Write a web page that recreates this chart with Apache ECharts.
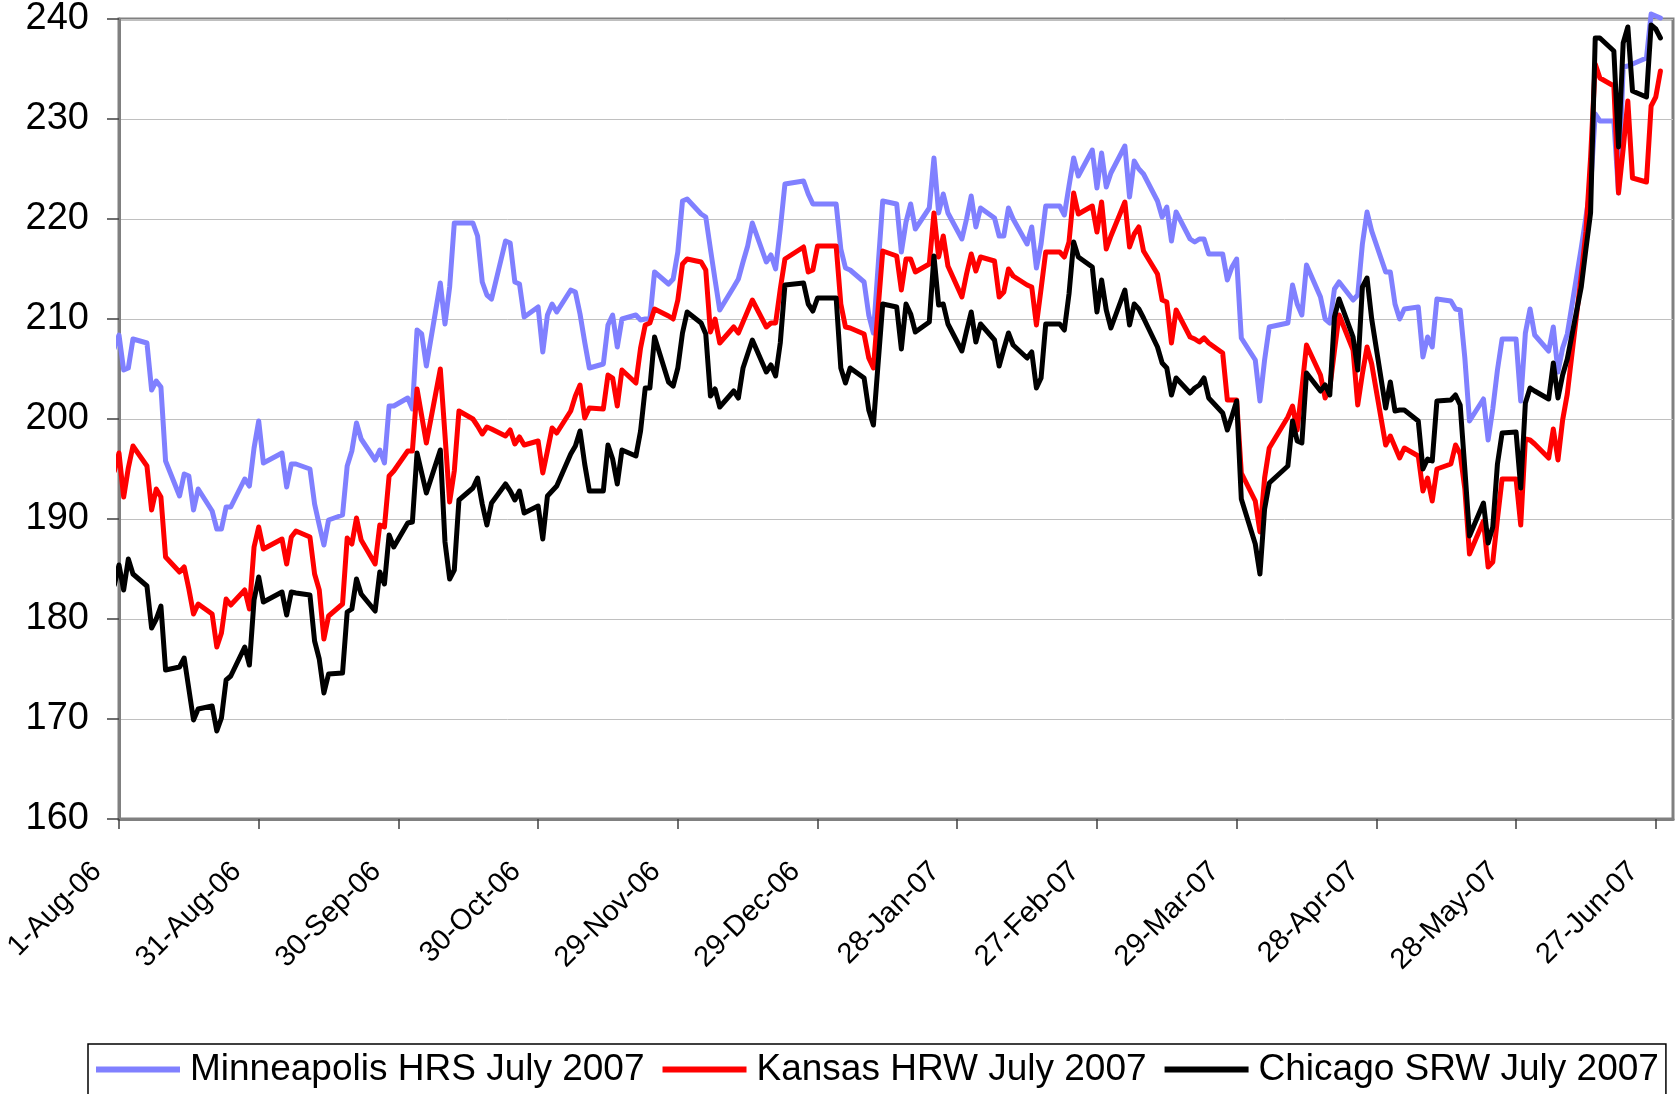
<!DOCTYPE html>
<html><head><meta charset="utf-8">
<script src="https://cdn.jsdelivr.net/npm/echarts@6/dist/echarts.min.js"></script>
<style>html,body{margin:0;padding:0;background:#fff;}#chart{width:1676px;height:1094px;}</style>
</head><body><div id="chart"></div>
<script>
// Trading dates (ISO)
const dates = [
'2006-07-31',
'2006-08-01','2006-08-02','2006-08-03','2006-08-04',
'2006-08-07','2006-08-08','2006-08-09','2006-08-10','2006-08-11',
'2006-08-14','2006-08-15','2006-08-16','2006-08-17','2006-08-18',
'2006-08-21','2006-08-22','2006-08-23','2006-08-24','2006-08-25',
'2006-08-28','2006-08-29','2006-08-30','2006-08-31','2006-09-01',
'2006-09-05','2006-09-06','2006-09-07','2006-09-08',
'2006-09-11','2006-09-12','2006-09-13','2006-09-14','2006-09-15',
'2006-09-18','2006-09-19','2006-09-20','2006-09-21','2006-09-22',
'2006-09-25','2006-09-26','2006-09-27','2006-09-28','2006-09-29',
'2006-10-02','2006-10-03','2006-10-04','2006-10-05','2006-10-06',
'2006-10-09','2006-10-10','2006-10-11','2006-10-12','2006-10-13',
'2006-10-16','2006-10-17','2006-10-18','2006-10-19','2006-10-20',
'2006-10-23','2006-10-24','2006-10-25','2006-10-26','2006-10-27',
'2006-10-30','2006-10-31','2006-11-01','2006-11-02','2006-11-03',
'2006-11-06','2006-11-07','2006-11-08','2006-11-09','2006-11-10',
'2006-11-13','2006-11-14','2006-11-15','2006-11-16','2006-11-17',
'2006-11-20','2006-11-21','2006-11-22','2006-11-23','2006-11-24',
'2006-11-27','2006-11-28','2006-11-29','2006-11-30','2006-12-01',
'2006-12-04','2006-12-05','2006-12-06','2006-12-07','2006-12-08',
'2006-12-11','2006-12-12','2006-12-13','2006-12-14','2006-12-15',
'2006-12-18','2006-12-19','2006-12-20','2006-12-21','2006-12-22',
'2006-12-26','2006-12-27','2006-12-28','2006-12-29',
'2007-01-02','2007-01-03','2007-01-04','2007-01-05',
'2007-01-08','2007-01-09','2007-01-10','2007-01-11','2007-01-12',
'2007-01-15','2007-01-16','2007-01-17','2007-01-18','2007-01-19',
'2007-01-22','2007-01-23','2007-01-24','2007-01-25','2007-01-26',
'2007-01-29','2007-01-30','2007-01-31','2007-02-01','2007-02-02',
'2007-02-05','2007-02-06','2007-02-07','2007-02-08','2007-02-09',
'2007-02-12','2007-02-13','2007-02-14','2007-02-15','2007-02-16',
'2007-02-19','2007-02-20','2007-02-21','2007-02-22','2007-02-23',
'2007-02-26','2007-02-27','2007-02-28','2007-03-01','2007-03-02',
'2007-03-05','2007-03-06','2007-03-07','2007-03-08','2007-03-09',
'2007-03-12','2007-03-13','2007-03-14','2007-03-15','2007-03-16',
'2007-03-19','2007-03-20','2007-03-21','2007-03-22','2007-03-23',
'2007-03-26','2007-03-27','2007-03-28','2007-03-29','2007-03-30',
'2007-04-02','2007-04-03','2007-04-04','2007-04-05',
'2007-04-09','2007-04-10','2007-04-11','2007-04-12','2007-04-13',
'2007-04-16','2007-04-17','2007-04-18','2007-04-19','2007-04-20',
'2007-04-23','2007-04-24','2007-04-25','2007-04-26','2007-04-27',
'2007-04-30','2007-05-01','2007-05-02','2007-05-03','2007-05-04',
'2007-05-07','2007-05-08','2007-05-09','2007-05-10','2007-05-11',
'2007-05-14','2007-05-15','2007-05-16','2007-05-17','2007-05-18',
'2007-05-21','2007-05-22','2007-05-23','2007-05-24','2007-05-25',
'2007-05-28','2007-05-29','2007-05-30','2007-05-31','2007-06-01',
'2007-06-04','2007-06-05','2007-06-06','2007-06-07','2007-06-08',
'2007-06-11','2007-06-12','2007-06-13','2007-06-14','2007-06-15',
'2007-06-18','2007-06-19','2007-06-20','2007-06-21','2007-06-22',
'2007-06-25','2007-06-26','2007-06-27','2007-06-28'
];

const minneapolis = [
207.1,
208.4,204.9,205.1,208.0,
207.6,202.9,203.8,203.2,195.8,
192.3,194.5,194.3,190.9,193.0,
190.8,189.0,189.0,191.2,191.2,
194.0,193.3,197.1,199.8,195.6,
196.6,193.2,195.5,195.5,
195.0,191.5,189.4,187.4,189.9,
190.4,195.3,196.8,199.6,198.0,
195.9,196.9,195.6,201.3,201.3,
202.1,201.0,208.9,208.5,205.3,
213.6,209.5,213.2,219.6,219.6,
219.6,218.3,213.7,212.4,212.0,
217.8,217.6,213.7,213.5,210.2,
211.2,206.7,210.4,211.5,210.7,
212.9,212.7,210.5,207.7,205.1,
205.5,209.4,210.4,207.2,210.0,
210.4,209.9,210.0,210.0,214.7,
213.5,214.0,216.7,221.8,222.0,
220.5,220.2,217.0,213.9,210.9,
213.2,214.0,215.7,217.3,219.6,
215.7,216.4,215.0,219.0,223.5,
223.8,222.5,221.5,221.5,
221.5,217.0,215.1,214.9,
213.7,210.4,208.6,215.2,221.8,
221.5,216.7,219.7,221.5,219.0,
221.1,226.1,220.6,222.5,220.6,
218.0,220.0,222.3,219.2,221.1,
220.1,218.3,218.3,221.1,220.0,
217.5,219.2,215.1,217.5,221.3,
221.3,220.4,223.3,226.1,224.3,
226.9,223.1,226.6,223.2,224.6,
227.3,222.2,225.8,225.0,224.5,
221.8,220.2,221.2,217.8,220.7,
218.0,217.7,218.0,218.0,216.5,
216.5,213.9,215.2,216.0,208.1,
205.9,201.8,205.9,209.2,
209.6,213.4,211.5,210.4,215.4,
212.2,210.0,209.6,213.0,213.7,
211.9,212.4,217.5,220.7,218.8,
214.7,214.7,211.5,210.0,211.0,
211.2,206.2,208.2,207.2,212.0,
211.8,211.0,210.9,206.1,199.8,
202.0,197.9,201.0,204.9,208.0,
208.0,201.8,208.6,211.0,208.4,
206.8,209.2,204.7,207.1,208.5,
217.1,220.2,223.2,230.5,229.8,
229.8,222.6,235.2,235.3,235.5,
236.1,240.5,240.3,240.1
];

const kansas = [
194.8,
196.6,192.2,195.1,197.3,
195.3,190.9,193.0,192.2,186.2,
184.7,185.2,183.0,180.5,181.5,
180.5,177.2,178.6,182.0,181.4,
182.9,181.0,187.2,189.2,187.0,
188.0,185.5,188.2,188.8,
188.2,184.5,182.9,178.0,180.3,
181.5,188.1,187.5,190.1,187.9,
185.5,189.4,189.2,194.3,194.8,
196.8,196.8,203.0,200.3,197.6,
205.0,198.4,191.7,194.8,200.8,
200.0,199.3,198.5,199.2,199.0,
198.3,198.9,197.5,198.2,197.4,
197.8,194.6,196.8,199.1,198.6,
200.8,202.3,203.4,200.1,201.1,
201.0,204.4,204.1,201.3,204.9,
203.6,207.1,209.4,209.6,211.0,
210.3,210.0,211.9,215.5,216.0,
215.7,214.9,208.7,210.0,207.6,
209.2,208.6,209.7,210.8,211.9,
209.2,209.6,209.6,213.0,216.0,
217.2,214.7,214.9,217.3,
217.3,211.5,209.2,209.1,
208.5,206.1,205.1,211.0,216.8,
216.3,212.9,216.0,216.0,214.7,
215.5,220.6,216.2,218.3,215.3,
212.2,214.5,216.5,214.8,216.2,
215.8,212.2,212.7,215.0,214.3,
213.4,213.2,209.4,213.0,216.7,
216.7,216.2,217.7,222.6,220.5,
221.3,218.7,221.7,217.0,218.3,
221.7,217.2,218.5,219.2,216.8,
214.5,211.9,211.7,207.6,210.9,
208.2,208.0,207.7,208.1,207.6,
206.6,201.9,201.9,201.9,194.6,
191.8,188.7,194.1,197.1,
200.2,201.3,198.9,203.0,207.4,
204.4,202.1,203.1,206.8,210.4,
206.9,201.4,204.5,207.2,205.5,
197.4,198.3,197.2,196.1,197.1,
196.3,192.8,194.1,191.8,195.0,
195.5,197.4,196.5,193.0,186.5,
189.8,185.2,185.7,190.0,194.0,
194.0,189.4,198.0,197.9,197.5,
196.1,199.0,195.9,199.9,202.5,
214.4,218.7,226.1,235.5,234.1,
233.3,222.6,227.0,231.8,224.1,
223.7,231.3,232.2,234.8
];

const chicago = [
183.4,
185.4,182.9,186.0,184.5,
183.3,179.1,180.0,181.3,174.9,
175.2,176.1,173.0,169.9,171.0,
171.3,168.8,170.1,173.9,174.3,
177.2,175.4,181.9,184.2,181.7,
182.7,180.4,182.7,182.6,
182.4,177.8,176.0,172.6,174.5,
174.6,180.7,181.0,184.0,182.5,
180.8,184.7,183.5,188.4,187.2,
189.6,189.7,196.6,194.6,192.6,
196.9,187.7,184.0,184.9,191.9,
193.1,194.1,191.5,189.4,191.6,
193.5,192.8,191.9,192.8,190.6,
191.3,188.0,192.3,192.8,193.3,
196.5,197.3,198.8,195.5,192.8,
192.8,197.4,196.0,193.5,196.9,
196.3,198.8,203.1,203.1,208.2,
203.7,203.3,205.1,208.6,210.7,
209.6,208.5,202.3,203.0,201.2,
202.8,202.1,205.1,206.5,207.9,
204.7,205.4,204.3,207.6,213.4,
213.6,211.5,210.8,212.1,
212.1,205.1,203.6,205.1,
204.1,200.9,199.4,205.5,211.5,
211.2,207.0,211.5,210.5,208.7,
209.7,216.3,211.4,211.5,209.5,
206.8,208.8,210.7,207.7,209.5,
207.9,205.3,207.0,208.6,207.4,
206.1,206.7,203.1,204.1,209.5,
209.5,208.9,212.5,217.7,216.2,
215.2,210.7,213.9,210.9,209.1,
212.9,209.4,211.5,211.0,210.1,
207.2,205.6,205.1,202.4,204.1,
202.6,203.1,203.4,204.1,202.1,
200.6,198.9,200.3,201.8,192.0,
187.5,184.5,191.0,193.6,
195.3,199.8,197.8,197.6,204.6,
202.8,203.4,202.4,210.2,212.0,
208.2,204.9,213.2,214.1,210.0,
201.1,203.7,200.8,200.9,200.9,
199.8,195.0,196.0,195.8,201.8,
201.9,202.4,201.4,195.0,188.3,
191.6,187.6,189.2,195.5,198.6,
198.7,193.1,201.6,203.1,202.8,
202.0,205.6,202.1,204.4,206.0,
213.2,217.0,220.6,238.1,238.1,
236.8,227.2,237.6,239.2,232.8,
232.2,239.4,239.0,238.1
];

const seriesNames = ['Minneapolis HRS July 2007', 'Kansas HRW July 2007', 'Chicago SRW July 2007'];
const seriesColors = ['#8080FF', '#FF0000', '#000000'];
// x tick labels, every 30 days from 1-Aug-06
const tickLabels = ['1-Aug-06','31-Aug-06','30-Sep-06','30-Oct-06','29-Nov-06','29-Dec-06','28-Jan-07','27-Feb-07','29-Mar-07','28-Apr-07','28-May-07','27-Jun-07'];
const yMin = 160, yMax = 240, yStep = 10;

const FONT = '"Liberation Sans", Arial, Helvetica, sans-serif';
const ORIGIN = Date.UTC(2006, 7, 1);
function dayOf(s) {
  const p = s.split('-');
  return Math.round((Date.UTC(+p[0], +p[1] - 1, +p[2]) - ORIGIN) / 86400000);
}
const xDays = dates.map(dayOf);
const tickVals = tickLabels.map((_, i) => i * 30);
const allSeries = [minneapolis, kansas, chicago];

const chart = echarts.init(document.getElementById('chart'), null, { renderer: 'canvas' });
chart.setOption({
  animation: false,
  backgroundColor: '#ffffff',
  grid: { left: 119, right: 3, top: 16, bottom: 275, show: true, borderColor: '#808080', borderWidth: 3, backgroundColor: 'transparent' },
  xAxis: {
    type: 'value', min: 0, max: 333.7, interval: 30,
    axisLine: { show: true, onZero: false, lineStyle: { color: '#808080', width: 3 } },
    axisTick: { show: true, inside: false, length: 10, customValues: tickVals, lineStyle: { color: '#404040', width: 1.5 } },
    axisLabel: {
      rotate: 45, fontSize: 29, fontFamily: FONT, color: '#000', margin: 26, padding: [0, 31, 0, 0],
      customValues: tickVals,
      formatter: v => { const i = Math.round(v / 30); return (Math.abs(v - i * 30) < 0.01 && tickLabels[i]) ? tickLabels[i] : ''; }
    },
    splitLine: { show: false }
  },
  yAxis: {
    type: 'value', min: yMin, max: yMax, interval: yStep,
    axisLine: { show: true, lineStyle: { color: '#808080', width: 3 } },
    axisTick: { show: true, inside: false, length: 12, lineStyle: { color: '#404040', width: 1.5 } },
    axisLabel: { fontSize: 38, fontFamily: FONT, color: '#000', margin: 30 },
    splitLine: { show: true, lineStyle: { color: '#C0C0C0', width: 1 } }
  },
  legend: {
    show: true, left: 88, top: 1044, orient: 'horizontal',
    icon: 'rect', itemWidth: 84, itemHeight: 6, itemGap: 18,
    padding: [7, 7, 14, 8], borderColor: '#000', borderWidth: 1.5,
    textStyle: { fontSize: 37, fontFamily: FONT, color: '#000', padding: [0, 0, 0, 5] },
    data: seriesNames
  },
  series: allSeries.map((vals, k) => ({
    name: seriesNames[k], type: 'line', showSymbol: false, symbol: 'none', clip: false,
    color: seriesColors[k],
    lineStyle: { color: seriesColors[k], width: 5, join: 'round', cap: 'round' },
    data: vals.map((v, i) => [xDays[i], v]),
    z: 2 + k
  }))
});
</script></body></html>
